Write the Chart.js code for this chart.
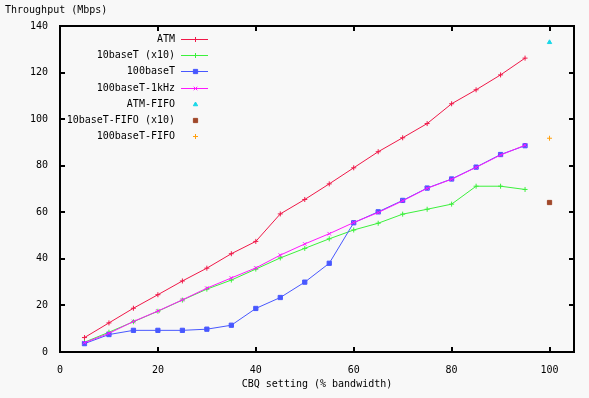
<!DOCTYPE html>
<html>
<head>
<meta charset="utf-8">
<script src="https://cdn.jsdelivr.net/npm/chart.js@4.4.0/dist/chart.umd.min.js"></script>
<style>
  html, body { margin: 0; padding: 0; background: #f8f8f8; }
  #wrap { width: 589px; height: 398px; }
</style>
</head>
<body>
<div id="wrap"><canvas id="chart" width="589" height="398"></canvas></div>
<script>
// CBQ setting (% bandwidth)
const cbq = [5, 10, 15, 20, 25, 30, 35, 40, 45, 50, 55, 60, 65, 70, 75, 80, 85, 90, 95];

// Throughput (Mbps)
const atm = [6.2, 12.5, 18.8, 24.6, 30.5, 36, 42.2, 47.5, 59.3, 65.5, 72.2, 79.1, 86, 92, 98.1, 106.6, 112.6, 119, 126.2];
const tenBaseT = [4.2, 8.5, 13, 17.5, 22.3, 27, 30.9, 35.6, 40.4, 44.5, 48.6, 52.4, 55.3, 59.2, 61.3, 63.5, 71.2, 71.2, 69.8];
const hundredBaseT = [3.6, 7.5, 9.3, 9.3, 9.3, 9.8, 11.5, 18.7, 23.4, 30, 38.1, 55.5, 60.2, 65.1, 70.4, 74.3, 79.4, 84.8, 88.6];
const hundredBaseT1k = [4, 8, 13.1, 17.6, 22.4, 27.4, 31.8, 36.1, 41.6, 46.4, 50.8, 55.6, 59.9, 64.9, 70.3, 74.2, 79.3, 84.6, 88.8];

// FIFO runs, all at 100%
const fifoX = 100;
const atmFifo = 133;
const tenBaseTFifo = 64.2;
const hundredBaseTFifo = 91.8;

const xTicks = [0, 20, 40, 60, 80, 100];
const yTicks = [0, 20, 40, 60, 80, 100, 120, 140];

const FONT = { family: 'DejaVu Sans Mono', size: 10 };

function pts(ys) {
    return ys.map((y, i) => ({ x: cbq[i], y: y }));
}

function lineSet(label, ys, color, style, radius, order) {
    return {
        label: label,
        data: pts(ys),
        borderColor: color,
        backgroundColor: color,
        borderWidth: 1,
        pointStyle: style,
        pointRadius: radius,
        pointBorderWidth: 1,
        showLine: true,
        tension: 0,
        order: order
    };
}

function fifoSet(label, y, color, style, radius, order) {
    return {
        label: label,
        data: [{ x: fifoX, y: y }],
        borderColor: color,
        backgroundColor: color,
        borderWidth: 1,
        pointStyle: style,
        pointRadius: radius,
        pointBorderWidth: 1,
        showLine: false,
        order: order
    };
}

// background fill
const bgPlugin = {
    id: 'bg',
    beforeDraw(chart) {
        const c = chart.ctx;
        c.save();
        c.fillStyle = '#f8f8f8';
        c.fillRect(0, 0, chart.width, chart.height);
        c.restore();
    }
};

// gnuplot style border with inward ticks on all sides
const framePlugin = {
    id: 'frame',
    beforeDatasetsDraw(chart) {
        const c = chart.ctx;
        const a = chart.chartArea;
        const xs = chart.scales.x, ys = chart.scales.y;
        c.save();
        c.strokeStyle = '#000';
        c.lineWidth = 2;
        c.strokeRect(a.left, a.top, a.right - a.left, a.bottom - a.top);
        c.beginPath();
        xTicks.forEach(v => {
            const px = Math.round(xs.getPixelForValue(v));
            c.moveTo(px, a.bottom); c.lineTo(px, a.bottom - 5);
            c.moveTo(px, a.top); c.lineTo(px, a.top + 5);
        });
        yTicks.forEach(v => {
            const py = Math.round(ys.getPixelForValue(v));
            c.moveTo(a.left, py); c.lineTo(a.left + 5, py);
            c.moveTo(a.right, py); c.lineTo(a.right - 5, py);
        });
        c.stroke();
        c.restore();
    }
};

// legend: text right aligned, sample to its right
const keyPlugin = {
    id: 'key',
    afterDraw(chart) {
        const c = chart.ctx;
        c.save();
        c.font = FONT.size + 'px ' + FONT.family;
        c.textAlign = 'right';
        c.textBaseline = 'middle';
        chart.data.datasets.forEach((ds, i) => {
            const y = Math.round(39 + i * 16.2);
            c.fillStyle = '#000';
            c.fillText(ds.label, 175, y);
            c.fillStyle = ds.borderColor;
            if (ds.showLine) {
                c.fillRect(181, y, 27, 1);
            }
            c.lineWidth = ds.pointBorderWidth;
            c.strokeStyle = ds.borderColor;
            Chart.helpers.drawPoint(c, { pointStyle: ds.pointStyle, radius: ds.pointRadius, borderWidth: ds.pointBorderWidth, rotation: 0 }, 195.5, y + 0.5);
        });
        c.restore();
    }
};

const ctx = document.getElementById('chart').getContext('2d');
new Chart(ctx, {
    type: 'scatter',
    data: {
        datasets: [
            lineSet('ATM', atm, '#f01848', 'cross', 2.5, 7),
            lineSet('10baseT (x10)', tenBaseT, '#3cf03c', 'cross', 2.5, 6),
            lineSet('100baseT', hundredBaseT, '#4858ff', 'rect', 3, 5),
            lineSet('100baseT-1kHz', hundredBaseT1k, '#ff18ff', 'crossRot', 2.5, 4),
            fifoSet('ATM-FIFO', atmFifo, '#18d8e8', 'triangle', 2.5, 3),
            fifoSet('10baseT-FIFO (x10)', tenBaseTFifo, '#a0482a', 'rect', 3, 2),
            fifoSet('100baseT-FIFO', hundredBaseTFifo, '#ffa010', 'cross', 2.5, 1)
        ]
    },
    options: {
        responsive: false,
        animation: false,
        layout: { padding: { left: 5, right: 15, top: 0, bottom: 0 } },
        plugins: {
            legend: { display: false },
            tooltip: { enabled: false },
            title: {
                display: true,
                text: 'Throughput (Mbps)',
                align: 'start',
                color: '#000',
                font: { family: FONT.family, size: FONT.size, weight: 'normal' },
                padding: { top: 4, bottom: 10 }
            }
        },
        scales: {
            x: {
                type: 'linear',
                min: 0,
                max: 105,
                afterFit(s) { s.height = 46; },
                afterBuildTicks(s) { s.ticks = xTicks.map(v => ({ value: v })); },
                grid: { display: false, drawTicks: false },
                border: { display: false },
                ticks: { color: '#000', font: FONT, padding: 12, maxRotation: 0 },
                title: {
                    display: true,
                    text: 'CBQ setting (% bandwidth)',
                    color: '#000',
                    font: FONT,
                    padding: { top: 0, bottom: 8 }
                }
            },
            y: {
                type: 'linear',
                min: 0,
                max: 140,
                afterFit(s) { s.width = 55; },
                afterBuildTicks(s) { s.ticks = yTicks.map(v => ({ value: v })); },
                grid: { display: false, drawTicks: false },
                border: { display: false },
                ticks: { color: '#000', font: FONT, padding: 12 }
            }
        }
    },
    plugins: [bgPlugin, framePlugin, keyPlugin]
});
</script>
</body>
</html>
